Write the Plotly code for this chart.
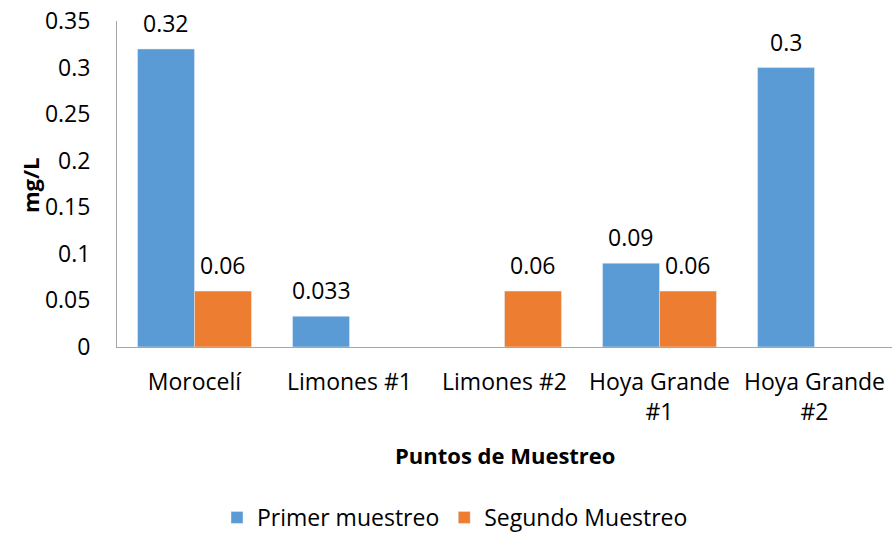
import plotly.graph_objects as go

categories = ["Morocelí", "Limones #1", "Limones #2", "Hoya Grande<br>#1", "Hoya Grande<br>#2"]
primer = [0.32, 0.033, None, 0.09, 0.3]
segundo = [0.06, None, 0.06, 0.06, None]
primer_labels = ["0.32", "0.033", "", "0.09", "0.3"]
segundo_labels = ["0.06", "", "0.06", "0.06", ""]
tick_vals = [0, 0.05, 0.1, 0.15, 0.2, 0.25, 0.3, 0.35]
tick_text = ["0", "0.05", "0.1", "0.15", "0.2", "0.25", "0.3", "0.35"]

FONT = "Open Sans"
FS = 23
fig = go.Figure()
fig.add_trace(go.Bar(x=categories, y=primer, name="Primer muestreo", marker_color="#5B9BD5"))
fig.add_trace(go.Bar(x=categories, y=segundo, name="Segundo Muestreo", marker_color="#ED7D31"))

annotations = []
for vals, labels, dx in ((primer, primer_labels, -28.5), (segundo, segundo_labels, 28.5)):
    for c, v, t in zip(categories, vals, labels):
        if v is None or not t:
            continue
        annotations.append(dict(x=c, y=v, xref="x", yref="y", text=t, showarrow=False,
                                xshift=dx, yshift=26, yanchor="middle", xanchor="center",
                                font=dict(size=FS, color="black", family=FONT)))

annotations.append(dict(text="<b>Puntos de Muestreo</b>", x=(505 - 117) / 775, xref="paper",
                        y=(347 - 455) / 326, yref="paper", showarrow=False,
                        font=dict(size=22), xanchor="center", yanchor="middle"))
annotations.append(dict(text="<b>mg/L</b>", x=(30 - 117) / 775, xref="paper", xanchor="center",
                        y=(347 - 185) / 326, yref="paper", showarrow=False, textangle=-90,
                        font=dict(size=22), yanchor="middle"))

fig.update_layout(
    width=893, height=540,
    margin=dict(l=117, r=1, t=21, b=193),
    paper_bgcolor="white", plot_bgcolor="white",
    font=dict(family=FONT, size=FS, color="black"),
    barmode="group", bargap=0.265, bargroupgap=0,
    showlegend=True,
    legend=dict(orientation="h", x=(455 - 117) / 775, xanchor="center",
                y=(347 - 539) / 326, yanchor="bottom",
                font=dict(size=FS), traceorder="normal"),
    xaxis=dict(showline=True, linecolor="#A6A6A6", linewidth=1, ticks="", showgrid=False,
               tickfont=dict(size=FS), ticklabelstandoff=14, fixedrange=True),
    yaxis=dict(range=[0, 0.35], tickvals=tick_vals, ticktext=tick_text, showline=True,
               linecolor="#A6A6A6", linewidth=1, showgrid=False, ticks="", zeroline=False,
               tickfont=dict(size=FS), ticklabelstandoff=21),
    annotations=annotations,
)
fig.write_html("out.html")
